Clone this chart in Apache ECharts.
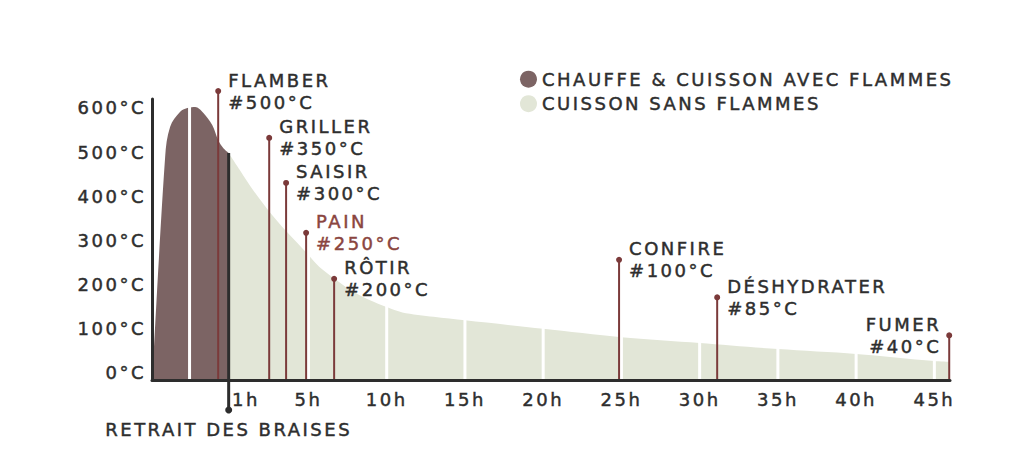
<!DOCTYPE html>
<html><head><meta charset="utf-8">
<script src="https://cdn.jsdelivr.net/npm/echarts@6/dist/echarts.min.js"></script>
<style>
html,body{margin:0;padding:0;background:#fff;}
#main{width:1024px;height:466px;}
#main text{letter-spacing:2.5px;}
</style></head><body><div id="main"></div>
<script>
// ---- data ----
const seriesNames = ['CHAUFFE & CUISSON AVEC FLAMMES', 'CUISSON SANS FLAMMES'];
const flameHours = [-4.95, -4.16, -3.84, -3.2, -2.69, -2.24, -1.73, -1.15, -0.77, -0.45, -0.1];
const flameTemps = [0, 489, 557, 591, 600, 602, 589, 561, 527, 509, 498];
const noFlameHours = [-0.1, 0.6, 1.5, 2.5, 3.6, 4.9, 5.7, 6.8, 7.9, 8.9, 10, 11, 13, 15, 20, 25, 30, 35, 40, 45, 46];
const noFlameTemps = [498, 460, 412, 365, 320, 271, 240, 210, 183, 165, 149, 137, 127, 119, 100, 81, 68, 54, 43, 27, 25];
const methodNames = ['FLAMBER', 'GRILLER', 'SAISIR', 'PAIN', 'RÔTIR', 'CONFIRE', 'DÉSHYDRATER', 'FUMER'];
const methodTemps = [500, 350, 300, 250, 200, 100, 85, 40];
const methodHours = [-0.77, 2.49, 3.57, 4.85, 6.64, 24.85, 31.12, 45.95];
const methodMarkerTemps = [638, 532, 430, 317, 213, 256, 171, 85];
const retraitLabel = 'RETRAIT DES BRAISES';
const retraitHour = -0.1;
const retraitTemp = 498;
const gapHours = [-2.6, 5, 10, 15, 20, 25, 30, 35, 40, 45];
const yTickValues = [0, 100, 200, 300, 400, 500, 600];
const xTickValues = [1, 5, 10, 15, 20, 25, 30, 35, 40, 45];

// ---- styling ----
const Y_MIN = -16, Y_MAX = 620, X_MIN = -5, X_MAX = 46;
const HIGHLIGHT = 'PAIN';
const FONT = '"DejaVu Sans", sans-serif';
const TEXT = '#2e2e2e';
const STEM = '#7b3a3a';
const HL_TEXT = '#8a4540';
const BROWN = '#7c6464';
const GREEN = '#e2e6d7';
const BOLDEN = 0.45;

const zip = (a, b) => a.map((v, i) => [v, b[i]]);
const allPts = zip(flameHours, flameTemps).concat(zip(noFlameHours, noFlameTemps)).sort((p, q) => p[0] - q[0]);
function areaAt(h) {
  for (let i = 1; i < allPts.length; i++) {
    const [x0, y0] = allPts[i - 1], [x1, y1] = allPts[i];
    if (h >= x0 && h <= x1) return x1 === x0 ? Math.max(y0, y1) : y0 + (y1 - y0) * (h - x0) / (x1 - x0);
  }
  return 0;
}

const chart = echarts.init(document.getElementById('main'), null, { renderer: 'svg' });
chart.setOption({
  animation: false,
  textStyle: { fontFamily: FONT },
  grid: { left: 152, right: 74, top: 99, bottom: 86 },
  legend: {
    data: seriesNames, orient: 'vertical', left: 515, top: 65, z: 10,
    icon: 'circle', itemWidth: 17, itemHeight: 17, itemGap: 6,
    textStyle: { fontSize: 18, color: TEXT, fontFamily: FONT, textBorderColor: TEXT, textBorderWidth: BOLDEN }
  },
  xAxis: {
    type: 'value', min: X_MIN, max: X_MAX, interval: 1, z: 5,
    axisLine: { show: true, onZero: false, lineStyle: { color: '#2d2d2d', width: 3 } },
    axisTick: { show: false }, splitLine: { show: false },
    axisLabel: {
      margin: 10, fontSize: 18, color: TEXT, fontFamily: FONT, textBorderColor: TEXT, textBorderWidth: BOLDEN,
      formatter: v => xTickValues.includes(v) ? v + 'h' : ''
    }
  },
  yAxis: {
    type: 'value', min: Y_MIN, max: Y_MAX, interval: 4, z: 5,
    axisLine: { show: true, onZero: false, lineStyle: { color: '#2d2d2d', width: 3 } },
    axisTick: { show: false }, splitLine: { show: false },
    axisLabel: {
      margin: 6, fontSize: 18, color: TEXT, fontFamily: FONT, textBorderColor: TEXT, textBorderWidth: BOLDEN,
      formatter: v => yTickValues.includes(v) ? v + '°C' : ''
    }
  },
  series: [
    {
      name: seriesNames[0], type: 'line', data: zip(flameHours, flameTemps), z: 2,
      smooth: 0.35, showSymbol: false, color: BROWN, itemStyle: { color: BROWN },
      lineStyle: { width: 0, color: BROWN }, areaStyle: { color: BROWN, opacity: 1, origin: 'start' }
    },
    {
      name: seriesNames[1], type: 'line', data: zip(noFlameHours, noFlameTemps), z: 2,
      smooth: 0.3, showSymbol: false, color: GREEN, itemStyle: { color: GREEN },
      lineStyle: { width: 0, color: GREEN }, areaStyle: { color: GREEN, opacity: 1, origin: 'start' }
    },
    {
      name: 'gaps', type: 'custom', z: 3, silent: true,
      data: gapHours.map(h => [h, areaAt(h) + 15]),
      encode: { x: 0, y: 1 },
      renderItem: (params, api) => {
        const top = api.coord([api.value(0), api.value(1)]);
        const bot = api.coord([api.value(0), Y_MIN]);
        return { type: 'line', shape: { x1: top[0], y1: top[1], x2: bot[0], y2: bot[1] }, style: { stroke: '#ffffff', lineWidth: 3 } };
      }
    },
    {
      name: 'methods', type: 'custom', z: 4, silent: true,
      data: zip(methodHours, methodMarkerTemps),
      encode: { x: 0, y: 1 },
      renderItem: (params, api) => {
        const i = params.dataIndex;
        const h = api.value(0);
        const top = api.coord([h, api.value(1)]);
        const bot = api.coord([h, Y_MIN]);
        const leftSide = h > X_MAX - 1;
        const col = methodNames[i] === HIGHLIGHT ? HL_TEXT : TEXT;
        return {
          type: 'group', children: [
            { type: 'line', shape: { x1: top[0], y1: top[1], x2: bot[0], y2: bot[1] }, style: { stroke: STEM, lineWidth: 2 } },
            { type: 'circle', shape: { cx: top[0], cy: top[1], r: 3 }, style: { fill: STEM } },
            {
              type: 'text', x: leftSide ? top[0] - 8 : top[0] + 10, y: top[1],
              style: {
                text: methodNames[i] + '\n#' + methodTemps[i] + '°C', fill: col, stroke: col, lineWidth: BOLDEN,
                font: '18px ' + FONT, align: leftSide ? 'right' : 'left', verticalAlign: 'middle', lineHeight: 22
              }
            }
          ]
        };
      }
    },
    {
      name: 'retrait', type: 'custom', z: 6, silent: true,
      data: [[retraitHour, retraitTemp]],
      encode: { x: 0, y: 1 },
      renderItem: (params, api) => {
        const top = api.coord([api.value(0), api.value(1)]);
        const axis = api.coord([api.value(0), Y_MIN]);
        const by = axis[1] + 30;
        return {
          type: 'group', children: [
            { type: 'line', shape: { x1: top[0], y1: top[1], x2: top[0], y2: by }, style: { stroke: '#2d2d2d', lineWidth: 3 } },
            { type: 'circle', shape: { cx: top[0], cy: by, r: 3.5 }, style: { fill: '#2d2d2d' } },
            {
              type: 'text', x: top[0], y: by + 19,
              style: { text: retraitLabel, fill: TEXT, stroke: TEXT, lineWidth: BOLDEN, font: '18px ' + FONT, align: 'center', verticalAlign: 'middle' }
            }
          ]
        };
      }
    }
  ]
});
</script></body></html>
